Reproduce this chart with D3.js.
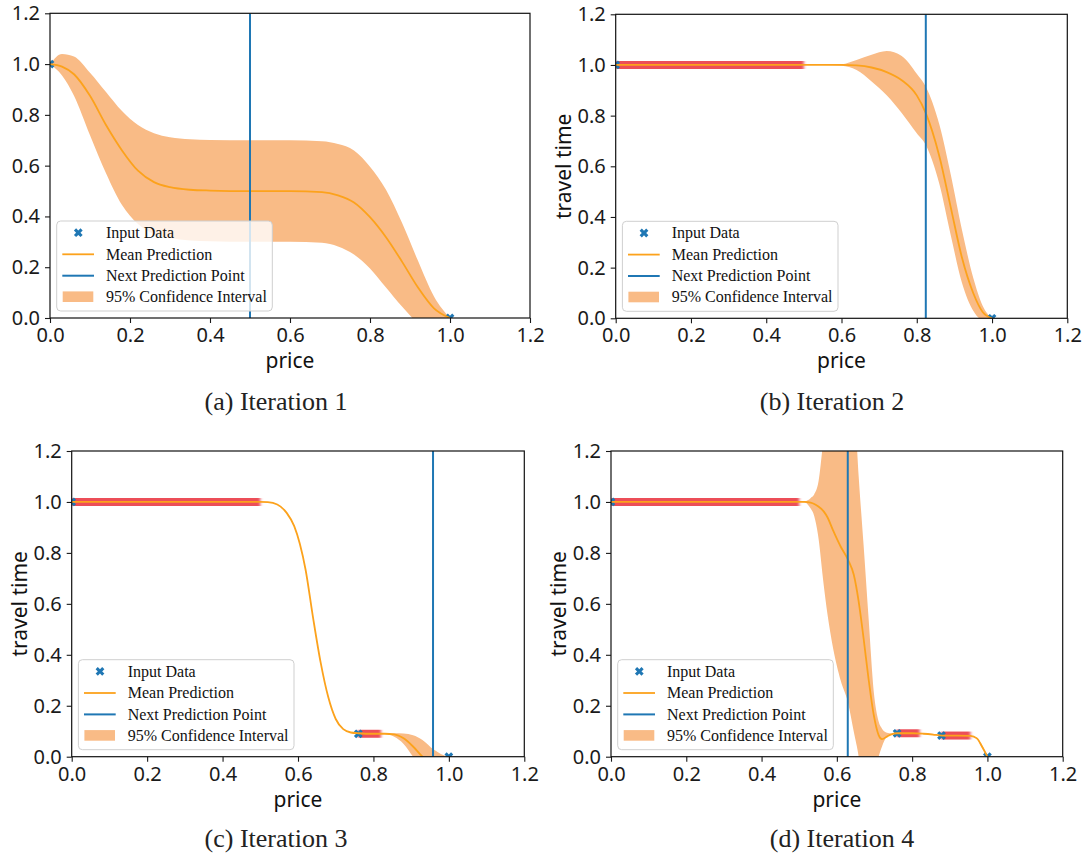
<!DOCTYPE html>
<html>
<head>
<meta charset="utf-8">
<script src="https://cdn.jsdelivr.net/npm/d3@7"></script>
<style>
  body { margin: 0; background: #fff; }
  svg { display: block; }
  .tick text { font-family: "Noto Sans", "Open Sans", sans-serif; font-size: 20px; fill: #1a1a1a; }
  .tick line { stroke: #1a1a1a; stroke-width: 1.1; }
</style>
</head>
<body>
<svg id="fig" width="1089" height="856"></svg>
<script>
// ---- shared axis ticks ----
const xTicks = [0, 0.2, 0.4, 0.6, 0.8, 1.0, 1.2];
const yTicks = [0, 0.2, 0.4, 0.6, 0.8, 1.0, 1.2];
const legendLabels = ["Input Data", "Mean Prediction", "Next Prediction Point", "95% Confidence Interval"];
const captions = ["(a) Iteration 1", "(b) Iteration 2", "(c) Iteration 3", "(d) Iteration 4"];

// ---- Iteration 1 ----
const priceA = [0, 0.03, 0.06, 0.1, 0.14, 0.18, 0.22, 0.26, 0.3, 0.35, 0.4, 0.5, 0.6, 0.68, 0.72, 0.76, 0.8, 0.84, 0.88, 0.92, 0.96, 1.0];
const meanA  = [1.0, 0.99, 0.96, 0.875, 0.76, 0.66, 0.58, 0.535, 0.515, 0.505, 0.502, 0.5, 0.5, 0.496, 0.483, 0.455, 0.397, 0.318, 0.222, 0.12, 0.038, 0];
const upperA = [1.0, 1.04, 1.03, 0.966, 0.89, 0.815, 0.76, 0.728, 0.712, 0.704, 0.701, 0.7, 0.7, 0.696, 0.685, 0.66, 0.596, 0.505, 0.375, 0.225, 0.085, 0];
const lowerA = [1.0, 0.955, 0.875, 0.72, 0.57, 0.445, 0.37, 0.33, 0.315, 0.305, 0.302, 0.3, 0.3, 0.296, 0.282, 0.25, 0.195, 0.12, 0.045, -0.02, -0.05, 0];
const inputA = [[0, 1.0], [1.0, 0]];
const observedA = [];
const nextA = 0.5;

// ---- Iteration 2 ----
const priceB = [0, 0.1, 0.2, 0.3, 0.4, 0.5, 0.55, 0.6, 0.64, 0.68, 0.72, 0.76, 0.8, 0.824, 0.86, 0.89, 0.92, 0.95, 0.975, 1.0];
const meanB  = [1, 1, 1, 1, 1, 1, 1, 1.0, 0.998, 0.99, 0.972, 0.94, 0.88, 0.81, 0.64, 0.44, 0.24, 0.1, 0.025, 0];
const upperB = [1, 1, 1, 1, 1, 1, 1, 1.003, 1.02, 1.04, 1.055, 1.035, 0.965, 0.914, 0.765, 0.57, 0.35, 0.16, 0.05, 0];
const lowerB = [1, 1, 1, 1, 1, 1, 1, 0.997, 0.98, 0.935, 0.88, 0.81, 0.73, 0.684, 0.53, 0.33, 0.14, 0.03, -0.005, 0];
const inputB = [[0, 1.0], [1.0, 0]];
const observedB = [[0, 0.5, 1.0]];
const nextB = 0.824;

// ---- Iteration 3 ----
const priceC = [0, 0.1, 0.2, 0.3, 0.4, 0.5, 0.52, 0.545, 0.57, 0.59, 0.605, 0.62, 0.64, 0.66, 0.68, 0.7, 0.72, 0.74, 0.76, 0.8, 0.83, 0.855, 0.88, 0.905, 0.93, 0.96, 0.98, 1.0];
const meanC  = [1, 1, 1, 1, 1, 1, 0.999, 0.99, 0.957, 0.905, 0.835, 0.735, 0.545, 0.37, 0.235, 0.148, 0.108, 0.095, 0.092, 0.09, 0.09, 0.088, 0.072, 0.04, 0.0, -0.04, -0.03, 0];
const upperC = [1, 1, 1, 1, 1, 1, 0.999, 0.99, 0.957, 0.905, 0.835, 0.735, 0.545, 0.37, 0.235, 0.148, 0.108, 0.095, 0.092, 0.09, 0.09, 0.092, 0.091, 0.084, 0.066, 0.028, 0.01, 0];
const lowerC = [1, 1, 1, 1, 1, 1, 0.999, 0.99, 0.957, 0.905, 0.835, 0.735, 0.545, 0.37, 0.235, 0.148, 0.108, 0.095, 0.092, 0.09, 0.09, 0.078, 0.05, 0.0, -0.05, -0.09, -0.07, 0];
const inputC = [[0, 1.0], [0.76, 0.09], [1.0, 0]];
const observedC = [[0, 0.5, 1.0], [0.76, 0.82, 0.09]];
const nextC = 0.958;

// ---- Iteration 4 ----
const priceD = [0, 0.1, 0.2, 0.3, 0.4, 0.5, 0.515, 0.53, 0.54, 0.55, 0.565, 0.575, 0.59, 0.61, 0.63, 0.645, 0.658, 0.671, 0.684, 0.698, 0.711, 0.72, 0.733, 0.745, 0.76, 0.8, 0.83, 0.855, 0.88, 0.92, 0.955, 0.972, 0.986, 1.0];
const meanD  = [1, 1, 1, 1, 1, 1, 1.0, 0.997, 0.992, 0.983, 0.963, 0.94, 0.888, 0.825, 0.772, 0.714, 0.609, 0.465, 0.308, 0.164, 0.085, 0.069, 0.079, 0.088, 0.092, 0.092, 0.09, 0.087, 0.083, 0.083, 0.082, 0.072, 0.039, 0];
const upperD = [1, 1, 1, 1, 1, 1, 1.002, 1.015, 1.03, 1.07, 1.25, 1.35, 1.48, 1.56, 1.55, 1.42, 1.1, 0.832, 0.55, 0.256, 0.138, 0.11, 0.094, 0.091, 0.092, 0.093, 0.092, 0.09, 0.084, 0.084, 0.082, 0.074, 0.045, 0];
const lowerD = [1, 1, 1, 1, 1, 1, 0.998, 0.975, 0.944, 0.87, 0.675, 0.56, 0.426, 0.30, 0.21, 0.098, 0.0, -0.15, -0.18, -0.08, 0.0, 0.04, 0.078, 0.086, 0.092, 0.091, 0.09, 0.085, 0.082, 0.082, 0.082, 0.07, 0.033, 0];
const inputD = [[0, 1.0], [0.76, 0.092], [0.878, 0.083], [1.0, 0]];
const observedD = [[0, 0.5, 1.0], [0.76, 0.82, 0.092], [0.878, 0.955, 0.083]];
const nextD = 0.629;

// ---- colours ----
const BLUE = "#1f77b4";
const ORANGE = "#fca21c";
const CI_FILL = "#f9bb86";
const RED = "#eb4450";

// ---- panel layout (pixel boxes of each axes) ----
const panels = [
  { box: { l: 50,    r: 530,    t: 13.3, b: 318   }, price: priceA, mean: meanA, upper: upperA, lower: lowerA, input: inputA, observed: observedA, next: nextA, ylabel: false, cap: [276, 410] },
  { box: { l: 615.7, r: 1067.3, t: 14.3, b: 318.3 }, price: priceB, mean: meanB, upper: upperB, lower: lowerB, input: inputB, observed: observedB, next: nextB, ylabel: true,  cap: [832, 410] },
  { box: { l: 71.7,  r: 524.3,  t: 451,  b: 756.7 }, price: priceC, mean: meanC, upper: upperC, lower: lowerC, input: inputC, observed: observedC, next: nextC, ylabel: true,  cap: [276, 847] },
  { box: { l: 611,   r: 1062.7, t: 451,  b: 756.7 }, price: priceD, mean: meanD, upper: upperD, lower: lowerD, input: inputD, observed: observedD, next: nextD, ylabel: true,  cap: [842, 847] }
];

const svg = d3.select("#fig");
const defs = svg.append("defs");
defs.append("filter")
  .attr("id", "soft")
  .attr("filterUnits", "userSpaceOnUse")
  .attr("x", 0).attr("y", 0).attr("width", 1089).attr("height", 856)
  .append("feGaussianBlur").attr("stdDeviation", "1.8 0.7");

const xMarker = d3.symbol().type(d3.symbolCross).size(48);
const fmt = d3.format(".1f");

panels.forEach((p, i) => {
  const { l, r, t, b } = p.box;
  const x = d3.scaleLinear().domain([0, 1.2]).range([l, r]);
  const y = d3.scaleLinear().domain([0, 1.2]).range([b, t]);
  const g = svg.append("g");

  const clipId = "clip" + i;
  defs.append("clipPath").attr("id", clipId)
    .append("rect").attr("x", l).attr("y", t).attr("width", r - l).attr("height", b - t);
  const plot = g.append("g").attr("clip-path", `url(#${clipId})`);

  const rows = p.price.map((v, k) => ({ x: v, m: p.mean[k], u: p.upper[k], lo: p.lower[k] }));
  const curve = d3.curveMonotoneX;

  // confidence band
  plot.append("path").datum(rows)
    .attr("d", d3.area().x(d => x(d.x)).y0(d => y(d.lo)).y1(d => y(d.u)).curve(curve))
    .attr("fill", CI_FILL);

  // observed ranges
  p.observed.forEach(o => {
    plot.append("line")
      .attr("x1", x(o[0])).attr("x2", x(o[1]))
      .attr("y1", y(o[2])).attr("y2", y(o[2]))
      .attr("stroke", RED).attr("stroke-width", 8).attr("stroke-opacity", 0.95)
      .attr("filter", "url(#soft)");
  });

  // input data markers
  plot.selectAll(".pt").data(p.input).join("path")
    .attr("d", xMarker)
    .attr("transform", d => `translate(${x(d[0])},${y(d[1])}) rotate(45)`)
    .attr("fill", BLUE);

  // mean prediction
  plot.append("path").datum(rows)
    .attr("d", d3.line().x(d => x(d.x)).y(d => y(d.m)).curve(curve))
    .attr("fill", "none").attr("stroke", ORANGE).attr("stroke-width", 1.8);

  // next prediction point
  plot.append("line")
    .attr("x1", x(p.next)).attr("x2", x(p.next))
    .attr("y1", t).attr("y2", b)
    .attr("stroke", BLUE).attr("stroke-width", 2);

  // axes
  const xAxis = g.append("g").attr("transform", `translate(0,${b})`)
    .call(d3.axisBottom(x).tickValues(xTicks).tickFormat(fmt).tickSize(5).tickPadding(5));
  const yAxis = g.append("g").attr("transform", `translate(${l},0)`)
    .call(d3.axisLeft(y).tickValues(yTicks).tickFormat(fmt).tickSize(5).tickPadding(5));
  xAxis.select(".domain").remove();
  yAxis.select(".domain").remove();

  // frame
  g.append("rect").attr("x", l).attr("y", t).attr("width", r - l).attr("height", b - t)
    .attr("fill", "none").attr("stroke", "#111").attr("stroke-width", 1.2);

  // axis labels
  g.append("text").attr("x", (l + r) / 2).attr("y", b + 50)
    .attr("text-anchor", "middle")
    .style("font-family", '"Noto Sans", sans-serif').style("font-size", "21px").style("fill", "#111")
    .text("price");
  if (p.ylabel) {
    g.append("text")
      .attr("transform", `translate(${l - 45},${(t + b) / 2}) rotate(-90)`)
      .attr("text-anchor", "middle")
      .style("font-family", '"Noto Sans", sans-serif').style("font-size", "21px").style("fill", "#111")
      .text("travel time");
  }

  // legend
  const lg = g.append("g").attr("transform", `translate(${l},${b})`);
  lg.append("rect").attr("x", 6.7).attr("y", -97).attr("width", 215.6).attr("height", 90)
    .attr("rx", 4).attr("fill", "#fff").attr("fill-opacity", 0.8)
    .attr("stroke", "#cfcfcf").attr("stroke-width", 1);
  const rowsY = [-85.3, -63.7, -42.3, -21.3];
  lg.append("path").attr("d", xMarker)
    .attr("transform", `translate(28.3,${rowsY[0]}) rotate(45)`).attr("fill", BLUE);
  lg.append("line").attr("x1", 12.3).attr("x2", 44).attr("y1", rowsY[1]).attr("y2", rowsY[1])
    .attr("stroke", ORANGE).attr("stroke-width", 1.8);
  lg.append("line").attr("x1", 12.3).attr("x2", 44).attr("y1", rowsY[2]).attr("y2", rowsY[2])
    .attr("stroke", BLUE).attr("stroke-width", 2);
  lg.append("rect").attr("x", 12.7).attr("y", rowsY[3] - 5.3).attr("width", 30.6).attr("height", 10.6)
    .attr("fill", CI_FILL);
  legendLabels.forEach((s, k) => {
    lg.append("text").attr("x", 56).attr("y", rowsY[k] + 5.3)
      .style("font-family", '"Liberation Serif", serif').style("font-size", "16px").style("fill", "#111")
      .text(s);
  });

  // caption
  svg.append("text").attr("x", p.cap[0]).attr("y", p.cap[1])
    .attr("text-anchor", "middle")
    .style("font-family", '"Liberation Serif", serif').style("font-size", "26px").style("fill", "#222")
    .text(captions[i]);
});
</script>
</body>
</html>
